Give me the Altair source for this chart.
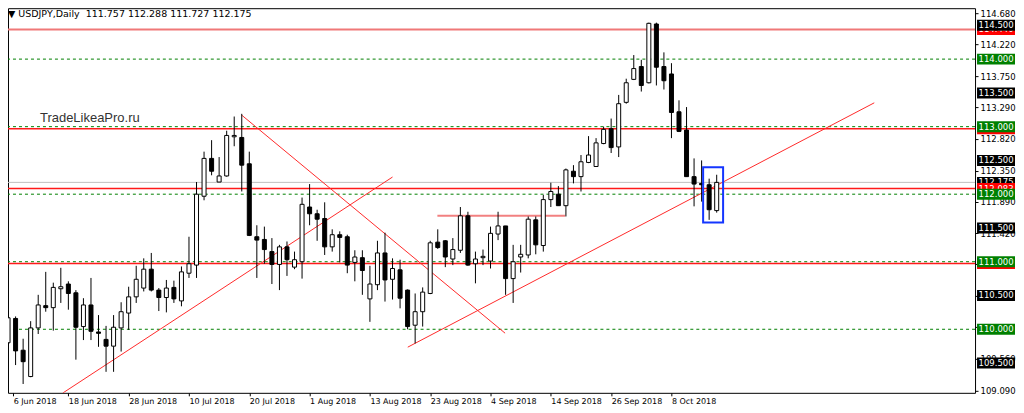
import altair as alt
import pandas as pd

# ---------------- data ----------------
opens = [109.80, 110.16, 109.69, 109.30, 110.02, 110.35, 110.32, 110.60, 110.67, 110.54,
         110.04, 110.36, 109.96, 109.85, 109.75, 110.02, 110.24, 110.48, 110.61, 110.89,
         110.58, 110.47, 110.62, 110.42, 110.83, 110.95, 111.97, 112.53, 112.18, 112.27,
         112.85, 112.84, 112.45, 111.37, 111.33, 111.15, 110.96, 111.22, 110.92, 111.00,
         111.81, 111.71, 111.64, 111.22, 111.40, 111.37, 110.99, 111.06, 110.45, 110.66,
         111.13, 110.74, 110.88, 110.58, 110.06, 110.26, 110.53, 111.29, 111.31, 111.04,
         111.17, 111.68, 110.97, 111.06, 111.01, 111.41, 111.53, 110.75, 111.07, 111.10,
         111.62, 111.24, 111.92, 112.00, 111.83, 112.34, 112.26, 112.47, 112.41, 112.75,
         112.97, 112.70, 113.36, 113.70, 113.89, 113.65, 114.52, 113.89, 113.78, 113.22,
         112.95, 112.26, 112.16, 112.14, 111.757]
highs = [110.27, 110.19, 109.86, 110.12, 110.51, 110.85, 110.69, 110.91, 110.71, 110.58,
         110.46, 110.76, 110.21, 110.05, 110.21, 110.40, 110.63, 110.94, 111.05, 111.13,
         110.61, 110.73, 110.72, 110.93, 111.37, 112.18, 112.63, 112.80, 112.55, 112.94,
         113.15, 113.19, 112.63, 111.54, 111.52, 111.35, 111.25, 111.30, 111.15, 111.95,
         112.15, 111.77, 111.88, 111.48, 111.45, 111.40, 111.17, 111.17, 110.94, 111.31,
         111.43, 111.05, 111.03, 110.59, 110.53, 110.62, 111.31, 111.48, 111.32, 111.35,
         111.81, 111.74, 111.15, 111.18, 111.52, 111.74, 111.53, 111.25, 111.25, 111.67,
         111.67, 111.99, 112.17, 112.12, 112.38, 112.43, 112.58, 112.86, 112.83, 113.00,
         113.12, 113.47, 113.71, 114.06, 113.99, 114.54, 114.54, 114.10, 113.94, 113.39,
         113.29, 112.53, 112.50, 112.23, 112.288]
lows = [109.77, 109.47, 109.19, 109.29, 109.93, 110.26, 109.98, 110.39, 110.29, 109.55,
        109.84, 109.84, 109.74, 109.37, 109.37, 109.67, 109.99, 110.39, 110.56, 110.56,
        110.27, 110.25, 110.39, 110.34, 110.76, 110.76, 111.91, 112.28, 112.18, 112.26,
        112.71, 112.04, 111.38, 110.76, 110.97, 110.67, 110.58, 110.79, 110.89, 110.75,
        111.54, 111.31, 111.10, 111.15, 110.99, 110.83, 110.71, 110.51, 110.11, 110.58,
        110.41, 110.44, 110.31, 110.00, 109.79, 110.04, 110.52, 111.19, 110.92, 110.95,
        111.13, 110.94, 110.68, 110.95, 110.90, 111.32, 110.51, 110.39, 110.84, 111.05,
        111.11, 111.15, 111.81, 111.83, 111.67, 112.16, 112.04, 112.46, 112.41, 112.74,
        112.61, 112.55, 113.34, 113.69, 113.52, 113.64, 113.61, 113.55, 112.83, 112.92,
        112.26, 111.82, 111.89, 111.62, 111.727]
closes = [110.17, 109.68, 109.52, 110.02, 110.36, 110.32, 110.62, 110.63, 110.53, 110.03,
          110.36, 109.97, 109.94, 109.75, 110.03, 110.26, 110.48, 110.74, 110.89, 110.58,
          110.47, 110.61, 110.45, 110.85, 110.97, 112.00, 112.53, 112.34, 112.27, 112.87,
          112.87, 112.43, 111.39, 111.32, 111.18, 110.96, 111.22, 111.03, 111.03, 111.85,
          111.71, 111.63, 111.22, 111.40, 111.36, 110.95, 111.07, 110.87, 110.67, 111.13,
          110.73, 110.90, 110.46, 110.04, 110.26, 110.55, 111.28, 111.21, 111.07, 111.18,
          111.68, 110.95, 111.04, 111.08, 111.42, 111.53, 110.75, 111.00, 111.11, 111.63,
          111.25, 111.92, 112.04, 111.83, 112.36, 112.26, 112.48, 112.58, 112.76, 112.96,
          112.69, 113.34, 113.65, 113.86, 113.61, 114.53, 113.88, 113.68, 113.21, 112.93,
          112.26, 112.15, 112.14, 111.77, 112.175]

date_idx = [0, 8, 16, 24, 32, 40, 48, 56, 64, 72, 80, 88]
date_labels = ["6 Jun 2018", "18 Jun 2018", "28 Jun 2018", "10 Jul 2018", "20 Jul 2018",
               "1 Aug 2018", "13 Aug 2018", "23 Aug 2018", "4 Sep 2018", "14 Sep 2018",
               "26 Sep 2018", "8 Oct 2018"]

price_ticks = [114.68, 114.22, 113.75, 113.29, 112.82, 112.35, 111.89, 111.42,
               110.96, 110.49, 110.03, 109.56, 109.09]

green_levels = [114.0, 113.0, 112.0, 111.0, 110.0]
red_levels = [112.968, 112.083, 110.975]
top_red_level = [114.44]
bid_level = [112.175]

trend_id = ["a", "a", "b", "b", "c", "c"]
trend_i = [7.25, 51.0, 30.99, 65.93, 53.02, 114.9]
trend_p = [109.055, 112.254, 113.171, 109.942, 109.735, 113.353]

seg_i = [56.95, 73.9]
seg_p = [111.68, 111.68]

box_i = [92.2]
box_i2 = [94.85]
box_p = [112.40]
box_p2 = [111.58]

lab_p = [114.44, 114.5, 114.0, 113.5, 112.968, 113.0, 112.5, 112.175, 112.083, 112.0,
         111.5, 110.975, 111.0, 110.5, 110.0, 109.5]
lab_kind = ["red", "black", "green", "black", "red", "green", "black", "black", "red",
            "green", "black", "red", "green", "black", "green", "black"]
lab_z = [0, 1, 1, 1, 0, 1, 1, 0, 1, 2, 1, 0, 1, 1, 1, 1]

header = "\u25bc USDJPY,Daily\u00a0\u00a0111.757 112.288 111.727 112.175"
watermark = "TradeLikeaPro.ru"

# ---------------- layout ----------------
PX_PER_BAR = 7.625
W, H = 968, 385
Y_TOP, Y_BOT = 114.754, 109.059
X_MIN = 0.656
X_MAX = X_MIN + W / PX_PER_BAR
ppu = H / (Y_TOP - Y_BOT)
half_box = 5.5 / ppu
FONT = "DejaVu Sans"
LBL = 8.5

xs = alt.Scale(domain=[X_MIN, X_MAX], nice=False, zero=False)
ys = alt.Scale(domain=[Y_BOT, Y_TOP], nice=False, zero=False)

date_vals = [max(v, X_MIN + 0.02) for v in date_idx]
label_expr = " : ".join(
    f"datum.value < {v + 4} ? '{l}'" for v, l in zip(date_idx, date_labels)) + " : ''"

xaxis = alt.Axis(values=date_vals, labelExpr=label_expr, title=None, grid=False,
                 domain=False, tickSize=3, tickColor="black", labelAlign="left",
                 labelBaseline="top", labelPadding=2, labelFont=FONT, labelFontSize=8,
                 labelColor="black", labelOverlap=False, labelFlush=False)
yaxis = alt.Axis(values=price_ticks, orient="right", title=None, grid=False,
                 labelExpr="(datum.value > 109.9 && datum.value < 111.0) ? '' : format(datum.value, '.3f')",
                 domain=False, tickSize=3, tickColor="black", labelPadding=2,
                 labelFont=FONT, labelFontSize=LBL, labelColor="black",
                 labelOverlap=False, labelFlush=False)


def X(f):
    return alt.X(f, type="quantitative", scale=xs, axis=xaxis)


def Y(f):
    return alt.Y(f, type="quantitative", scale=ys, axis=yaxis)


bars = pd.DataFrame({"i": list(range(len(opens))), "o": opens, "h": highs,
                     "l": lows, "c": closes})

green_df = pd.DataFrame({"p": green_levels})
red_df = pd.DataFrame({"p": red_levels})
top_df = pd.DataFrame({"p": top_red_level})
bid_df = pd.DataFrame({"p": bid_level})
trend_df = pd.DataFrame({"id": trend_id, "i": trend_i, "p": trend_p})
seg_df = pd.DataFrame({"i": seg_i, "p": seg_p})
box_df = pd.DataFrame({"i": box_i, "i2": box_i2, "p": box_p, "p2": box_p2})
lab_df = pd.DataFrame({"p": lab_p, "kind": lab_kind, "z": lab_z,
                       "t": [f"{v:.3f}" for v in lab_p]})

green = alt.Chart(green_df).mark_rule(color="#008000", strokeDash=[3, 3], strokeWidth=1).encode(y=Y("p"))
bid = alt.Chart(bid_df).mark_rule(color="#c0c0c0", strokeWidth=1).encode(y=Y("p"))
red = alt.Chart(red_df).mark_rule(color="#ff1a1a", strokeWidth=1.5).encode(y=Y("p"))
top = alt.Chart(top_df).mark_rule(color="#f07878", strokeWidth=2).encode(y=Y("p"))

trend = alt.Chart(trend_df).mark_line(color="#ff2a2a", strokeWidth=1, clip=True).encode(
    x=X("i"), y=Y("p"), detail="id:N")
seg = alt.Chart(seg_df).mark_line(color="#f28080", strokeWidth=2).encode(x=X("i"), y=Y("p"))

wick = alt.Chart(bars).mark_rule(color="#000000", strokeWidth=1, clip=True).encode(
    x=X("i"), y=Y("l"), y2="h")
body = alt.Chart(bars).mark_bar(size=4, stroke="#000000", strokeWidth=1, clip=True).encode(
    x=X("i"), y=Y("o"), y2="c",
    fill=alt.condition("datum.c >= datum.o", alt.value("#ffffff"), alt.value("#000000")))

box = alt.Chart(box_df).mark_rect(fillOpacity=0, stroke="#1436ff", strokeWidth=2).encode(
    x=X("i"), x2="i2", y=Y("p"), y2="p2")

label_layers = []
for z in [0, 1, 2]:
    sub = alt.Chart(lab_df).transform_filter(f"datum.z == {z}")
    label_layers.append(
        sub.transform_calculate(a=f"datum.p + {half_box}", b=f"datum.p - {half_box}")
        .mark_rect().encode(
            x=alt.value(W + 2), x2=alt.value(W + 40), y=Y("a"), y2="b",
            color=alt.Color("kind:N",
                            scale=alt.Scale(domain=["black", "green", "red"],
                                            range=["#000000", "#008000", "#ff0000"]),
                            legend=None)))
    label_layers.append(
        sub.mark_text(align="left", baseline="middle", font=FONT, fontSize=LBL,
                      color="white").encode(x=alt.value(W + 3.5), y=Y("p"), text="t:N"))

head = alt.Chart(pd.DataFrame({"t": [header]})).mark_text(
    align="left", baseline="top", font=FONT, fontSize=9.5, color="black").encode(
    x=alt.value(0), y=alt.value(1), text="t:N")
wm = alt.Chart(pd.DataFrame({"t": [watermark]})).mark_text(
    align="left", baseline="middle", font="Liberation Sans", fontSize=13,
    color="#333333").encode(x=alt.value(32), y=alt.value(110), text="t:N")

chart = alt.layer(green, bid, red, top, trend, seg, wick, body, box,
                  *label_layers, head, wm).properties(
    width=W, height=H,
    autosize=alt.AutoSizeParams(type="none"),
    padding={"left": 0, "top": 0, "right": 41, "bottom": 20},
    background="white",
).configure_view(stroke="black", strokeWidth=1)

chart.save("out.html", embed_options={"renderer": "svg", "actions": False})
